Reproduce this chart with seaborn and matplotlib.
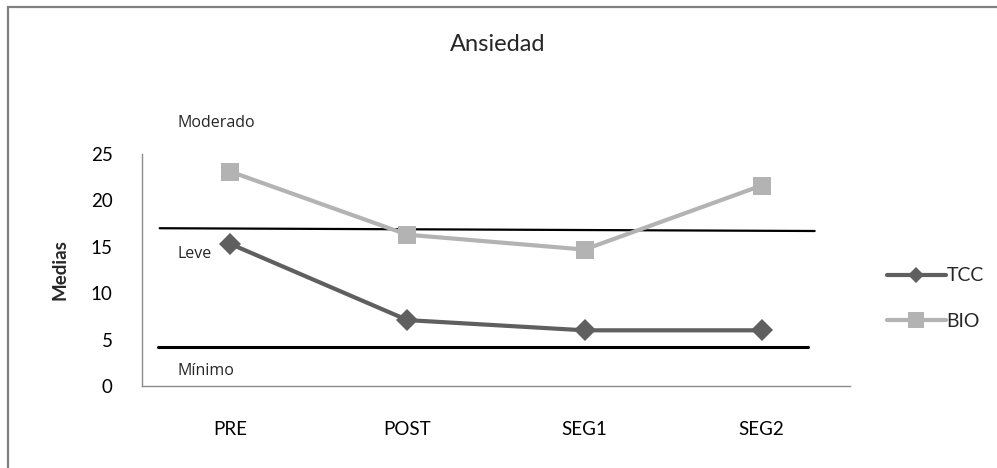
import matplotlib
matplotlib.use("Agg")
import matplotlib.pyplot as plt
import seaborn as sns
import pandas as pd
from matplotlib.patches import Rectangle
from matplotlib.lines import Line2D

# Anxiety means per assessment point and treatment group
fases = ["PRE", "POST", "SEG1", "SEG2"]
tcc = [15.3, 7.1, 6.0, 6.0]
bio = [23.1, 16.3, 14.7, 21.6]

# Severity cut-offs (Leve / Mínimo boundaries)
corte_moderado = [17.0, 16.7]
corte_leve = [4.2, 4.2]
niveles = ["Moderado", "Leve", "Mínimo"]
niveles_y = [28.3, 14.2, 1.6]

colores = {"TCC": "#5f5f5f", "BIO": "#b3b3b3"}
marcas = {"TCC": "D", "BIO": "s"}

sns.set_theme(style="white")
plt.rcParams["font.family"] = ["Lato", "DejaVu Sans"]

df = pd.DataFrame({
    "Fase": fases * 2,
    "Media": tcc + bio,
    "Grupo": ["TCC"] * 4 + ["BIO"] * 4,
})

fig = plt.figure(figsize=(9.97, 4.68), dpi=100)
ax = fig.add_axes([0.1424, 0.1752, 0.7102, 0.4958])

# outer chart frame
fig.patches.append(Rectangle((0.008, -0.02), 1.1, 1.005, transform=fig.transFigure,
                             fill=False, edgecolor="#808080", linewidth=1.6))

sns.lineplot(data=df, x="Fase", y="Media", hue="Grupo", style="Grupo",
             palette=colores, markers=marcas, dashes=False,
             markersize=11, linewidth=3.0, markeredgewidth=0,
             sort=False, ax=ax, clip_on=False, legend=False)

# BIO squares are slightly larger
for line in ax.lines:
    if line.get_marker() == "s":
        line.set_markersize(13)

ax.set_xlim(-0.5, 3.5)
ax.set_ylim(0, 25)
ax.set_yticks([0, 5, 10, 15, 20, 25])
ax.tick_params(axis="both", length=0, labelsize=13.5, colors="black")
ax.tick_params(axis="x", pad=25)
ax.tick_params(axis="y", pad=21)
ax.set_xlabel("")
ax.set_ylabel("Medias", fontsize=13.5, fontweight="bold", labelpad=16)

for s in ["top", "right"]:
    ax.spines[s].set_visible(False)
for s in ["left", "bottom"]:
    ax.spines[s].set_color("#8c8c8c")
    ax.spines[s].set_linewidth(1.0)

# severity cut-off lines
ax.plot([-0.40, 3.30], corte_moderado, color="black", linewidth=1.6, clip_on=False, zorder=1)
ax.plot([-0.41, 3.26], corte_leve, color="black", linewidth=2.2, clip_on=False, zorder=1)

for txt, yv in zip(niveles, niveles_y):
    ax.text(-0.30, yv, txt, fontsize=11.5, family=["Open Sans", "DejaVu Sans"],
            va="center", ha="left", clip_on=False)

handles = [Line2D([], [], color=colores[g], marker=marcas[g], linewidth=3.0,
                  markeredgewidth=0, markersize=8 if g == "TCC" else 11)
           for g in ["TCC", "BIO"]]
fig.legend(handles, ["TCC", "BIO"], loc="center left", bbox_to_anchor=(0.890, 0.362),
           frameon=False, fontsize=14, handlelength=3.0, handletextpad=0.05,
           labelspacing=1.45, borderaxespad=0, borderpad=0)

fig.text(0.499, 0.905, "Ansiedad", ha="center", va="center", fontsize=17)

fig.savefig("out.png", dpi=100)
